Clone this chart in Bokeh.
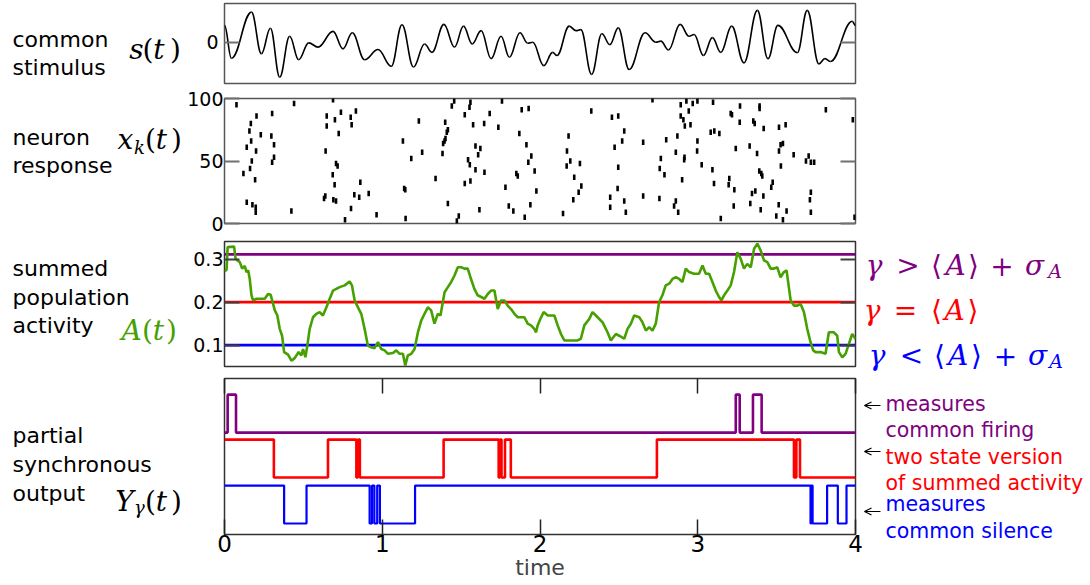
from bokeh.plotting import figure
from bokeh.layouts import column, row
from bokeh.models import LinearAxis, FixedTicker, Label, Arrow, OpenHead, Range1d, Span
from bokeh.embed import file_html
from bokeh.resources import INLINE

# ---------------- data ----------------
# common stimulus s(t): successive turning points (time, value)
stim_t = [0.0, 0.044, 0.171, 0.234, 0.291, 0.350, 0.413, 0.470, 0.534, 0.593,
          0.688, 0.751, 0.810, 0.888, 0.973, 1.057, 1.125, 1.198, 1.268, 1.315,
          1.391, 1.458, 1.515, 1.570, 1.627, 1.690, 1.753, 1.806, 1.873, 1.922,
          1.954, 2.024, 2.080, 2.108, 2.185, 2.228, 2.259, 2.327, 2.392, 2.443,
          2.496, 2.565, 2.666, 2.734, 2.766, 2.815, 2.888, 2.945, 2.977, 3.036,
          3.093, 3.146, 3.215, 3.293, 3.378, 3.445, 3.508, 3.631, 3.694, 3.768,
          3.806, 3.842, 3.979, 4.0]
stim_s = [0.48, -0.46, 0.86, -0.33, 0.40, -1.00, 0.17, -0.50, -0.02, -0.14,
          0.31, -0.19, 0.27, -0.50, -0.21, -0.69, 0.50, -0.71, -0.05, -0.29,
          0.51, -0.14, 0.46, -0.05, 0.33, -0.47, 0.17, -0.43, 0.27, -0.03,
          0.0, -0.67, -0.29, -0.38, 0.46, 0.33, 0.36, -0.92, 0.24, -0.07,
          0.41, -0.78, 0.27, 0.0, 0.03, -0.22, 0.51, 0.17, 0.22, -0.38,
          0.13, -0.29, 0.46, -0.59, 0.91, -0.47, 0.48, -0.30, 0.91, -0.62,
          -0.47, -0.55, 0.60, 0.48]

# spike raster: spike time and neuron index k
spike_t = [0.076, 0.441, 0.688, 0.203, 0.302, 0.167, 0.158, 0.230, 0.297, 0.169,
           0.141, 0.200, 0.314, 0.173, 0.314, 0.302, 0.162, 0.120, 0.194, 0.141,
           0.177, 0.198, 0.198, 0.424, 0.648, 0.738, 0.700, 0.800, 0.833, 0.806,
           0.648, 0.724, 0.641, 0.707, 0.717, 0.686, 0.698, 0.861, 0.631, 0.639,
           0.690, 0.707, 0.823, 0.854, 0.914, 0.802, 0.764, 0.964, 1.131, 1.232,
           1.184, 1.253, 1.139, 1.146, 1.148, 1.338, 1.399, 1.409, 1.416, 1.395,
           1.401, 1.386, 1.382, 1.456, 1.441, 1.559, 1.553, 1.523, 1.681, 1.576,
           1.646, 1.736, 1.591, 1.622, 1.608, 1.544, 1.555, 1.591, 1.648, 1.559,
           1.523, 1.416, 1.485, 1.473, 1.616, 1.759, 1.884, 1.928, 1.869, 1.914,
           1.945, 1.926, 1.966, 1.850, 1.859, 1.781, 1.977, 1.802, 1.831, 1.939,
           1.903,
           2.146, 2.181, 2.171, 2.169, 2.192, 2.253, 2.217, 2.262, 2.245, 2.211,
           2.325, 2.456, 2.496, 2.534, 2.521, 2.473, 2.654, 2.496, 2.492, 2.445,
           2.534, 2.445, 2.544, 2.654, 2.757, 2.713, 2.892, 2.928, 2.968, 2.998,
           2.943, 3.097, 2.892, 2.909, 2.918, 2.954, 3.082, 3.105, 3.137, 2.871,
           2.800, 2.998, 2.996, 2.861, 2.916, 2.914, 2.766, 2.759, 2.789, 3.025,
           3.093, 2.901, 3.103, 2.861, 2.850, 2.876, 3.146, 3.268, 3.209, 3.217,
           3.392, 3.392, 3.266, 3.352, 3.361, 3.418, 3.515, 3.557, 3.241, 3.329,
           3.376, 3.515, 3.525, 3.540, 3.608, 3.686, 3.703, 3.717, 3.738, 3.527,
           3.390, 3.403, 3.409, 3.200, 3.196, 3.475, 3.466, 3.232, 3.228, 3.365,
           3.344, 3.416, 3.333, 3.399, 3.513, 3.563, 3.498, 3.540, 3.717, 3.711,
           3.717, 3.812, 3.983, 3.994]
spike_k = [95, 96, 99, 86, 88, 80, 74, 71, 70, 66,
           61, 58, 63, 50, 53, 49, 44, 40, 35, 17,
           15, 13, 9, 10, 86, 89, 83, 85, 90, 79,
           78, 72, 58, 48, 46, 39, 31, 33, 20, 22,
           19, 18, 23, 21, 24, 12, 3, 7, 66, 82,
           52, 57, 28, 27, 4, 36, 81, 73, 75, 66,
           68, 64, 56, 98, 94, 97, 93, 87, 88, 79,
           80, 77, 62, 60, 55, 51, 47, 43, 41, 34,
           32, 16, 6, 2, 11, 98, 91, 92, 72, 63,
           54, 49, 42, 40, 38, 29, 26, 14, 10, 15,
           5,
           8, 70, 58, 46, 50, 48, 37, 30, 25, 19,
           90, 85, 86, 74, 66, 61, 65, 45, 28, 21,
           18, 13, 9, 22, 20, 99, 95, 98, 96, 98,
           90, 97, 86, 83, 78, 79, 73, 74, 72, 70,
           67, 66, 58, 57, 53, 51, 52, 44, 39, 47,
           43, 35, 32, 18, 14, 9, 4, 94, 88, 87,
           94, 92, 81, 82, 80, 76, 77, 79, 60, 62,
           56, 58, 63, 64, 55, 50, 54, 49, 49, 46,
           42, 40, 38, 36, 31, 33, 29, 27, 14, 26,
           24, 22, 16, 11, 15, 10, 6, 3, 25, 19,
           9, 91, 83, 5]

# summed population activity A(t)
act_t = [0.0, 0.013, 0.020, 0.061, 0.070, 0.097, 0.112, 0.129, 0.139, 0.150,
         0.160, 0.171, 0.181, 0.203, 0.234, 0.255, 0.276, 0.293, 0.302, 0.319,
         0.335, 0.350, 0.365, 0.378, 0.403, 0.424, 0.445, 0.470, 0.487, 0.498,
         0.513, 0.525, 0.540, 0.561, 0.582, 0.603, 0.624, 0.646, 0.667, 0.688,
         0.709, 0.730, 0.762, 0.793, 0.808, 0.825, 0.846, 0.867, 0.888, 0.909,
         0.930, 0.951, 0.973, 0.994, 1.015, 1.036, 1.068, 1.089, 1.110, 1.131,
         1.146, 1.162, 1.184, 1.205, 1.226, 1.247, 1.268, 1.289, 1.310, 1.331,
         1.352, 1.369, 1.384, 1.395, 1.416, 1.437, 1.458, 1.479, 1.500, 1.521,
         1.542, 1.559, 1.584, 1.605, 1.627, 1.648, 1.669, 1.690, 1.711, 1.732,
         1.753, 1.774, 1.795, 1.816, 1.838, 1.859, 1.880, 1.901, 1.922, 1.943,
         1.964, 1.975, 1.985, 2.002, 2.023, 2.049, 2.091, 2.112, 2.133, 2.154,
         2.196, 2.238, 2.259, 2.281, 2.312, 2.333, 2.365, 2.397, 2.428, 2.449,
         2.481, 2.502, 2.534, 2.555, 2.576, 2.597, 2.629, 2.650, 2.671, 2.692,
         2.713, 2.734, 2.755, 2.776, 2.797, 2.819, 2.840, 2.861, 2.882, 2.903,
         2.924, 2.945, 2.977, 3.008, 3.030, 3.051, 3.072, 3.093, 3.114, 3.135,
         3.150, 3.167, 3.188, 3.209, 3.230, 3.251, 3.272, 3.293, 3.314, 3.336,
         3.357, 3.378, 3.399, 3.420, 3.441, 3.462, 3.483, 3.504, 3.525, 3.546,
         3.563, 3.589, 3.610, 3.631, 3.652, 3.673, 3.694, 3.715, 3.732, 3.747,
         3.778, 3.810, 3.831, 3.863, 3.884, 3.895, 3.916, 3.937, 3.958, 3.979,
         4.0]
act_a = [0.272, 0.275, 0.328, 0.329, 0.301, 0.293, 0.278, 0.284, 0.270, 0.274,
         0.254, 0.216, 0.204, 0.208, 0.208, 0.208, 0.219, 0.217, 0.204, 0.181,
         0.169, 0.138, 0.122, 0.084, 0.078, 0.064, 0.070, 0.084, 0.076, 0.091,
         0.072, 0.099, 0.138, 0.165, 0.173, 0.177, 0.169, 0.188, 0.208, 0.227,
         0.231, 0.235, 0.239, 0.248, 0.239, 0.204, 0.188, 0.173, 0.138, 0.099,
         0.095, 0.093, 0.107, 0.091, 0.088, 0.080, 0.082, 0.088, 0.080, 0.080,
         0.053, 0.076, 0.080, 0.091, 0.130, 0.157, 0.173, 0.188, 0.181, 0.150,
         0.173, 0.169, 0.200, 0.223, 0.235, 0.247, 0.262, 0.281, 0.281, 0.278,
         0.278, 0.258, 0.231, 0.216, 0.212, 0.208, 0.219, 0.227, 0.227, 0.184,
         0.204, 0.204, 0.192, 0.184, 0.173, 0.165, 0.165, 0.165, 0.150, 0.146,
         0.138, 0.130, 0.146, 0.161, 0.177, 0.169, 0.169, 0.146, 0.126, 0.111,
         0.111, 0.111, 0.115, 0.146, 0.161, 0.177, 0.165, 0.153, 0.130, 0.111,
         0.126, 0.122, 0.115, 0.138, 0.150, 0.169, 0.165, 0.153, 0.134, 0.142,
         0.134, 0.150, 0.200, 0.216, 0.239, 0.243, 0.254, 0.258, 0.254, 0.247,
         0.278, 0.270, 0.266, 0.266, 0.285, 0.266, 0.266, 0.247, 0.227, 0.212,
         0.204, 0.216, 0.227, 0.239, 0.270, 0.316, 0.301, 0.278, 0.289, 0.281,
         0.324, 0.336, 0.320, 0.297, 0.293, 0.278, 0.278, 0.281, 0.258, 0.270,
         0.274, 0.204, 0.192, 0.192, 0.196, 0.177, 0.138, 0.107, 0.088, 0.084,
         0.084, 0.080, 0.130, 0.130, 0.122, 0.084, 0.072, 0.080, 0.103, 0.126,
         0.115]

# thresholds gamma
gamma_high = 0.311   # <A> + sigma_A
gamma_mean = 0.2     # <A>
gamma_low = 0.1

# two-state outputs Y_gamma(t): initial state and switching times
fire_start = 0
fire_switch = [0.02, 0.073, 3.241, 3.266, 3.35, 3.405]
mean_start = 1
mean_switch = [0.313, 0.656, 0.836, 0.846, 0.858, 1.389, 1.738, 1.746, 1.756,
               1.778, 1.815, 2.741, 3.61, 3.625, 3.648]
silence_start = 1
silence_switch = [0.378, 0.52, 0.92, 0.935, 0.95, 0.968, 0.985, 1.208, 3.715,
                  3.72, 3.728, 3.82, 3.888, 3.943]

time_ticks = [0, 1, 2, 3, 4]
stim_ticks = [0]
neuron_ticks = [0, 50, 100]
act_ticks = [0.1, 0.2, 0.3]

PURPLE = "#800080"
RED = "#ff0000"
BLUE = "#0000ff"
GREEN = "#46a000"
MATH = "DejaVu Serif"
SANS = "DejaVu Sans"

# ---------------- layout ----------------
W, H = 1090, 585
LEFT_W = 184            # column with the row titles
FRAME_L, FRAME_R = 223, 855
MAIN_W = 863 - LEFT_W   # panels (frame plus tick-label border)
RIGHT_W = W - LEFT_W - MAIN_W
T_MAX = 4


def make_panel(top, frame_h, bottom, y0, y1, outline="#555555"):
    p = figure(width=MAIN_W, height=top + frame_h + bottom,
               x_range=Range1d(0, T_MAX), y_range=Range1d(y0, y1),
               output_backend="svg", toolbar_location=None,
               x_axis_location=None, y_axis_location=None,
               min_border_left=FRAME_L - LEFT_W,
               min_border_right=LEFT_W + MAIN_W - FRAME_R,
               min_border_top=top, min_border_bottom=bottom, title=None,
               outline_line_color=outline, outline_line_width=1.5,
               background_fill_color="white", border_fill_color="white")
    p.grid.visible = False
    return p


def add_ticks(p, side, values, labels=True, size="19px", standoff=2,
              color="#707070", width=2, tick_len=15):
    ax = LinearAxis(ticker=FixedTicker(ticks=values),
                    major_tick_in=tick_len, major_tick_out=0,
                    minor_tick_in=0, minor_tick_out=0,
                    axis_line_color=None,
                    major_tick_line_color=color, major_tick_line_width=width,
                    major_label_standoff=standoff,
                    major_label_text_font=SANS)
    if labels:
        ax.major_label_text_font_size = size
        ax.major_label_text_color = "black"
    else:
        ax.major_label_text_font_size = "0px"
        ax.major_label_text_color = None
        ax.major_label_standoff = 0
    p.add_layout(ax, side)
    return ax


def text_panel(width, x0):
    p = figure(width=width, height=H, x_range=Range1d(x0, x0 + width),
               y_range=Range1d(H, 0), output_backend="svg",
               toolbar_location=None, x_axis_location=None,
               y_axis_location=None, min_border=0, title=None,
               outline_line_color=None, background_fill_color="white",
               border_fill_color="white")
    p.grid.visible = False
    return p


def put_text(p, x, y, s, size, color="black", font=SANS, style="normal",
             align="left"):
    p.add_layout(Label(x=x, y=y, text=s, text_font=font,
                       text_font_size=f"{size}px", text_font_style=style,
                       text_color=color, text_align=align,
                       text_baseline="alphabetic"))


def put_math(p, pieces, baseline, size, color="black"):
    """pieces: (glyph, centre x, italic?, baseline shift, size or None)"""
    for s, cx, italic, dy, sz in pieces:
        put_text(p, cx, baseline + dy, s, sz or size, color=color, font=MATH,
                 style="italic" if italic else "normal", align="center")


def toggled(start, switches):
    xs = [0.0] + list(switches) + [float(T_MAX)]
    ys = [start]
    for _ in switches:
        ys.append(1 - ys[-1])
    ys.append(ys[-1])
    return xs, ys


# ---------------- panel 1: common stimulus ----------------
p1 = make_panel(3, 80, 3, -1.18, 1.106)
add_ticks(p1, "left", stim_ticks, standoff=6)
add_ticks(p1, "right", stim_ticks, labels=False)
cx0 = [a + 0.4 * (b - a) for a, b in zip(stim_t[:-1], stim_t[1:])]
cx1 = [b - 0.4 * (b - a) for a, b in zip(stim_t[:-1], stim_t[1:])]
p1.bezier(x0=stim_t[:-1], y0=stim_s[:-1], x1=stim_t[1:], y1=stim_s[1:],
          cx0=cx0, cy0=stim_s[:-1], cx1=cx1, cy1=stim_s[1:],
          line_color="black", line_width=1.6)

# ---------------- panel 2: neuron response ----------------
p2 = make_panel(12, 125, 11, 0, 100)
add_ticks(p2, "left", neuron_ticks, standoff=1)
add_ticks(p2, "right", neuron_ticks, labels=False)
p2.segment(x0=spike_t, y0=[k - 2.2 for k in spike_k],
           x1=spike_t, y1=[k + 2.2 for k in spike_k],
           line_color="black", line_width=2.6)

# ---------------- panel 3: summed population activity ----------------
p3 = make_panel(7, 125, 6, 0.0505, 0.341, outline="#333333")
add_ticks(p3, "left", act_ticks, standoff=1, color="#404040")
add_ticks(p3, "right", act_ticks, labels=False, color="#404040")
for level, col in [(gamma_high, PURPLE), (gamma_mean, RED), (gamma_low, BLUE)]:
    p3.add_layout(Span(location=level, dimension="width", line_color=col,
                       line_width=2.8, level="underlay"))
p3.line(act_t, act_a, line_color=GREEN, line_width=2.6)

# ---------------- panel 4: partial synchronous output ----------------
p4 = make_panel(6, 156, 51, -0.29, 3.82, outline="#333333")
xax = add_ticks(p4, "below", time_ticks, size="23px", standoff=0,
                color="#222222", width=1.5)
xax.axis_label = "time"
xax.axis_label_text_font = SANS
xax.axis_label_text_font_style = "normal"
xax.axis_label_text_font_size = "22px"
xax.axis_label_standoff = 0
add_ticks(p4, "above", time_ticks, labels=False, color="#222222", width=1.5)
levels = [((fire_start, fire_switch), PURPLE, 2.395, 2.6),
          ((mean_start, mean_switch), RED, 1.21, 2.6),
          ((silence_start, silence_switch), BLUE, 0.0, 2.2)]
for (start, sw), col, off, lw in levels:
    xs, ys = toggled(start, sw)
    p4.step(xs, [v + off for v in ys], mode="after", line_color=col, line_width=lw)

# ---------------- row titles (left column) ----------------
left = text_panel(LEFT_W, 0)
for s, y in [("common", 39), ("stimulus", 67), ("neuron", 137),
             ("response", 165), ("summed", 268), ("population", 297),
             ("activity", 325), ("partial", 434.5), ("synchronous", 464),
             ("output", 492.5)]:
    put_text(left, 12, y, s, 22)

put_math(left, [("s", 136, True, 0, None), ("(", 147.5, False, 0, None),
                ("t", 158.5, True, 0, None), (")", 175, False, 0, None)], 48.5, 28)
put_math(left, [("x", 125, True, 0, None), ("k", 139, True, 8, 18),
                ("(", 150, False, 0, None), ("t", 161, True, 0, None),
                (")", 176, False, 0, None)], 139, 28)
put_math(left, [("A", 131, True, 0, None), ("(", 147, False, 0, None),
                ("t", 158, True, 0, None), (")", 171, False, 0, None)], 330, 28,
         color=GREEN)
put_math(left, [("Y", 124, True, 0, None), ("\u03b3", 139, True, 6, 18),
                ("(", 150, False, 0, None), ("t", 161, True, 0, None),
                (")", 176, False, 0, None)], 501, 28)

# ---------------- threshold labels and notes (right column) ----------------
X_RIGHT = LEFT_W + MAIN_W
right = text_panel(RIGHT_W, X_RIGHT)
put_math(right, [("\u03b3", 873.5, True, 0, None), (">", 907.5, False, 0, None),
                 ("\u27e8", 936, False, 0, None), ("A", 955, True, 0, None),
                 ("\u27e9", 973, False, 0, None), ("+", 1001.5, False, 0, None),
                 ("\u03c3", 1034, True, 0, None), ("A", 1054.5, True, 5, 19)],
         265, 28, color=PURPLE)
put_math(right, [("\u03b3", 871.5, True, 0, None), ("=", 905, False, 0, None),
                 ("\u27e8", 936, False, 0, None), ("A", 954, True, 0, None),
                 ("\u27e9", 972.5, False, 0, None)],
         310, 28, color=RED)
put_math(right, [("\u03b3", 876.5, True, 0, None), ("<", 911, False, 0, None),
                 ("\u27e8", 939, False, 0, None), ("A", 957.5, True, 0, None),
                 ("\u27e9", 976, False, 0, None), ("+", 1005, False, 0, None),
                 ("\u03c3", 1037, True, 0, None), ("A", 1055.5, True, 5, 19)],
         355, 28, color=BLUE)

notes = [("measures", 403, PURPLE), ("common firing", 429, PURPLE),
         ("two state version", 456, RED), ("of summed activity", 482, RED),
         ("measures", 503, BLUE), ("common silence", 530, BLUE)]
for s, y, col in notes:
    put_text(right, 885, y, s, 20.5, color=col)

for y in [405, 451, 511]:
    right.add_layout(Arrow(x_start=880, y_start=y, x_end=X_RIGHT + 1, y_end=y,
                           line_color="black", line_width=1.2,
                           end=OpenHead(size=7, line_width=1.2,
                                        line_color="black")))

layout = row(left, column(p1, p2, p3, p4, spacing=0), right, spacing=0)
open("out.html", "w").write(file_html(layout, INLINE))
